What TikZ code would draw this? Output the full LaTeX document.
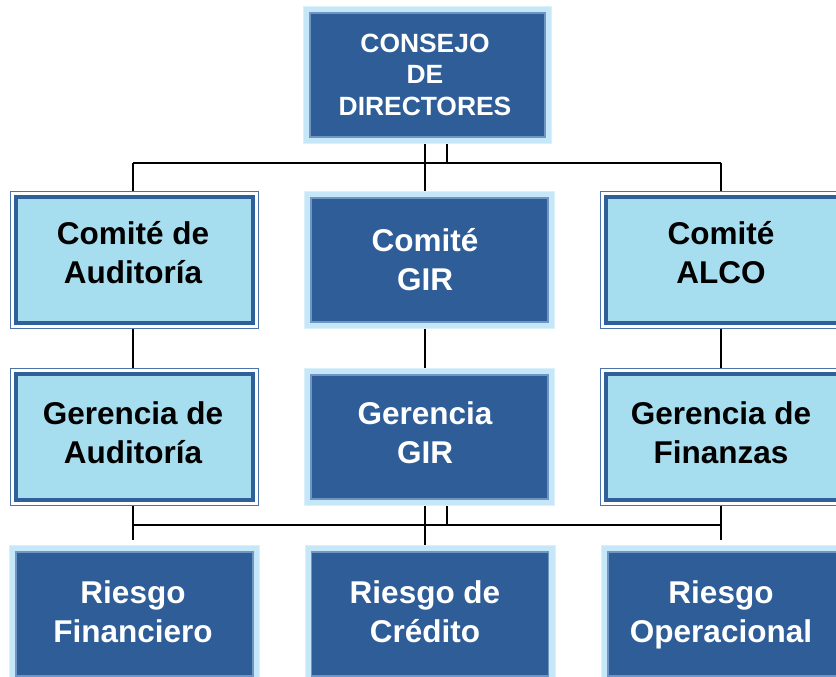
\documentclass[tikz,border=0pt]{standalone}
\usepackage{fontspec}
\setmainfont{Liberation Sans}
\usetikzlibrary{backgrounds}
\definecolor{darkfill}{HTML}{2E5D98}
\definecolor{darkedge}{HTML}{6F95C5}
\definecolor{paleband}{HTML}{C6E7F7}
\definecolor{paleedge}{HTML}{DAF0FB}
\definecolor{lightfill}{HTML}{A7DEEF}
\definecolor{thickedge}{HTML}{30609A}
\definecolor{thinedge}{HTML}{4A73AE}
\newcommand{\lstrut}{\rule[-9pt]{0pt}{39pt}}
\newcommand{\tstrut}{\rule[-7.5pt]{0pt}{31.5pt}}
\tikzset{
  lightbox/.style={rectangle, inner sep=0pt, minimum width=237pt, minimum height=126pt,
    preaction={draw=thinedge, line width=12.4pt},
    preaction={draw=white, line width=10pt},
    fill=lightfill, draw=thickedge, line width=4pt},
  darkbox/.style={rectangle, inner sep=0pt, minimum width=237pt, minimum height=124pt,
    preaction={draw=paleedge, line width=14pt},
    preaction={draw=paleband, line width=12pt},
    fill=darkfill, draw=darkedge, line width=1.2pt},
  ltext/.style={align=center, inner sep=0pt, text=black,
    font=\fontsize{31.5}{39}\selectfont\bfseries},
  dtext/.style={ltext, text=white},
  ttext/.style={align=center, inner sep=0pt, text=white,
    font=\fontsize{26.4}{31.5}\selectfont\bfseries},
  conn/.style={draw=black, line width=2pt}
}
\begin{document}
\begin{tikzpicture}[x=1pt,y=-1pt]
\useasboundingbox (0,0) rectangle (836,677);
% boxes
\node[darkbox, minimum width=235pt] (cd) at (427.5,75) {};
\node[lightbox] (ca) at (134.5,260) {};
\node[darkbox] (cg) at (429.5,260) {};
\node[lightbox] (cal) at (724.5,260) {};
\node[lightbox] (ga) at (134.5,437) {};
\node[darkbox] (gg) at (429.5,437) {};
\node[lightbox] (gf) at (724.5,437) {};
\node[darkbox] (rf) at (134.5,614) {};
\node[darkbox] (rc) at (430,614) {};
\node[darkbox] (ro) at (726.5,614) {};
% texts
\node[ttext] (cdt) at (425,75.5) {\tstrut CONSEJO\\\tstrut DE\\\tstrut DIRECTORES};
\node[ltext] (cat) at (133,253) {\lstrut Comité de\\\lstrut Auditoría};
\node[dtext] (cgt) at (425,260.8) {\lstrut Comité\\\lstrut GIR};
\node[ltext] (calt) at (721,253) {\lstrut Comité\\\lstrut ALCO};
\node[ltext] (gat) at (133,433.5) {\lstrut Gerencia de\\\lstrut Auditoría};
\node[dtext] (ggt) at (425,433) {\lstrut Gerencia\\\lstrut GIR};
\node[ltext] (gft) at (721,433.5) {\lstrut Gerencia de\\\lstrut Finanzas};
\node[dtext] (rft) at (133,612.8) {\lstrut Riesgo\\\lstrut Financiero};
\node[dtext] (rct) at (425,612.8) {\lstrut Riesgo de\\\lstrut Crédito};
\node[dtext] (rot) at (721,612.8) {\lstrut Riesgo\\\lstrut Operacional};
% junction coordinates
\coordinate (vL) at (133,163);
\coordinate (vM) at (425,163);
\coordinate (vM2) at (447,163);
\coordinate (vR) at (721,163);
\coordinate (wL) at (133,525);
\coordinate (wM) at (425,525);
\coordinate (wM2) at (447,525);
\coordinate (wR) at (721,525);
\coordinate (eL) at (133,540);
\coordinate (eR) at (721,540);
% connectors
\begin{scope}[on background layer]
\draw[conn] (cd.south -| vM) -- (cg.north -| vM);
\draw[conn] (cd.south -| vM2) -- (vM2);
\draw[conn] (vL) -- (vR);
\draw[conn] (vL) -- (ca.north -| vL);
\draw[conn] (vR) -- (cal.north -| vR);
\draw[conn] (ca.south -| vL) -- (ga.north -| vL);
\draw[conn] (cg.south -| vM) -- (gg.north -| vM);
\draw[conn] (cal.south -| vR) -- (gf.north -| vR);
\draw[conn] (gg.south -| wM) -- (rc.north -| wM);
\draw[conn] (gg.south -| wM2) -- (wM2);
\draw[conn] (wL) -- (wR);
\draw[conn] (ga.south -| wL) -- (eL);
\draw[conn] (gf.south -| wR) -- (eR);
\end{scope}
\end{tikzpicture}
\end{document}
